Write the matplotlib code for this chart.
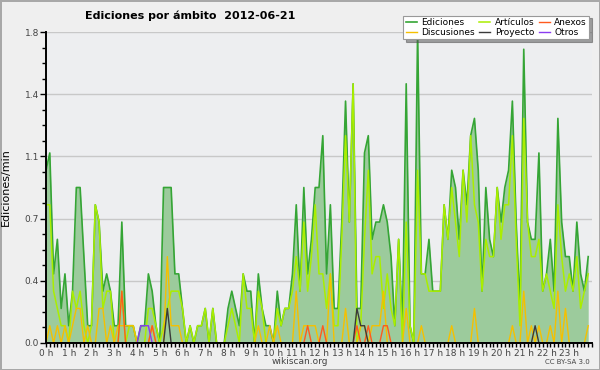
import matplotlib
matplotlib.use("Agg")
import matplotlib.pyplot as plt
from matplotlib.ticker import AutoMinorLocator, MultipleLocator, FixedLocator
import numpy as np

# edits per minute, one value every 10 minutes (6 per hour)
ediciones = [
    1.0, 1.1, 0.4, 0.6, 0.2, 0.4, 0.1, 0.3, 0.9, 0.9, 0.5, 0.1,
    0.1, 0.8, 0.7, 0.3, 0.4, 0.3, 0.1, 0.1, 0.7, 0.1, 0.1, 0.1,
    0.0, 0.1, 0.1, 0.4, 0.3, 0.1, 0.0, 0.9, 0.9, 0.9, 0.4, 0.4,
    0.2, 0.0, 0.1, 0.0, 0.1, 0.1, 0.2, 0.0, 0.2, 0.0, 0.0, 0.0,
    0.2, 0.3, 0.2, 0.1, 0.4, 0.3, 0.3, 0.0, 0.4, 0.2, 0.1, 0.1,
    0.0, 0.3, 0.1, 0.2, 0.2, 0.4, 0.8, 0.3, 0.9, 0.4, 0.6, 0.9,
    0.9, 1.2, 0.4, 0.8, 0.2, 0.2, 0.7, 1.4, 0.7, 1.5, 0.2, 0.2,
    1.1, 1.2, 0.6, 0.7, 0.7, 0.8, 0.7, 0.5, 0.1, 0.6, 0.1, 1.5,
    0.1, 0.0, 1.8, 0.4, 0.4, 0.6, 0.3, 0.3, 0.3, 0.8, 0.6, 1.0,
    0.9, 0.6, 1.0, 0.8, 1.2, 1.3, 1.0, 0.3, 0.9, 0.6, 0.5, 0.9,
    0.7, 0.9, 1.0, 1.4, 0.7, 0.2, 1.7, 0.7, 0.6, 0.6, 1.1, 0.3,
    0.4, 0.6, 0.3, 1.3, 0.7, 0.5, 0.5, 0.3, 0.7, 0.4, 0.3, 0.5,
]
articulos = [
    0.8, 0.8, 0.3, 0.2, 0.1, 0.1, 0.0, 0.3, 0.2, 0.3, 0.1, 0.0,
    0.1, 0.8, 0.7, 0.2, 0.3, 0.3, 0.0, 0.0, 0.3, 0.0, 0.1, 0.1,
    0.0, 0.0, 0.0, 0.2, 0.2, 0.1, 0.0, 0.1, 0.2, 0.3, 0.3, 0.3,
    0.2, 0.0, 0.1, 0.0, 0.1, 0.1, 0.2, 0.0, 0.2, 0.0, 0.0, 0.0,
    0.1, 0.2, 0.1, 0.0, 0.4, 0.2, 0.2, 0.0, 0.3, 0.2, 0.0, 0.0,
    0.0, 0.2, 0.1, 0.2, 0.2, 0.3, 0.5, 0.3, 0.7, 0.3, 0.5, 0.8,
    0.4, 0.4, 0.2, 0.4, 0.1, 0.1, 0.6, 1.2, 0.7, 1.5, 0.0, 0.1,
    0.6, 1.0, 0.4, 0.5, 0.5, 0.2, 0.4, 0.2, 0.1, 0.6, 0.0, 0.7,
    0.1, 0.0, 1.0, 0.4, 0.4, 0.3, 0.3, 0.3, 0.3, 0.8, 0.6, 0.9,
    0.7, 0.5, 1.0, 0.7, 1.2, 0.8, 0.7, 0.3, 0.6, 0.5, 0.5, 0.9,
    0.6, 0.8, 0.8, 1.2, 0.6, 0.1, 1.3, 0.7, 0.5, 0.5, 0.6, 0.3,
    0.4, 0.3, 0.2, 0.8, 0.5, 0.3, 0.4, 0.3, 0.5, 0.2, 0.3, 0.4,
]
discusiones = [
    0.0, 0.1, 0.0, 0.1, 0.0, 0.1, 0.0, 0.1, 0.2, 0.2, 0.0, 0.1,
    0.0, 0.0, 0.2, 0.2, 0.0, 0.1, 0.0, 0.1, 0.1, 0.1, 0.1, 0.1,
    0.0, 0.0, 0.0, 0.0, 0.1, 0.0, 0.0, 0.0, 0.5, 0.1, 0.1, 0.1,
    0.0, 0.0, 0.0, 0.0, 0.0, 0.0, 0.0, 0.0, 0.0, 0.0, 0.0, 0.0,
    0.0, 0.0, 0.0, 0.0, 0.0, 0.0, 0.0, 0.0, 0.1, 0.0, 0.0, 0.1,
    0.0, 0.1, 0.0, 0.0, 0.0, 0.0, 0.3, 0.0, 0.1, 0.1, 0.1, 0.1,
    0.0, 0.0, 0.0, 0.4, 0.0, 0.0, 0.0, 0.2, 0.0, 0.0, 0.0, 0.1,
    0.1, 0.0, 0.1, 0.1, 0.1, 0.3, 0.0, 0.0, 0.0, 0.0, 0.0, 0.2,
    0.0, 0.0, 0.0, 0.1, 0.0, 0.0, 0.0, 0.0, 0.0, 0.0, 0.0, 0.1,
    0.0, 0.0, 0.0, 0.0, 0.0, 0.2, 0.0, 0.0, 0.0, 0.0, 0.0, 0.0,
    0.0, 0.0, 0.0, 0.1, 0.0, 0.0, 0.3, 0.0, 0.1, 0.0, 0.1, 0.0,
    0.0, 0.1, 0.0, 0.3, 0.0, 0.2, 0.0, 0.0, 0.0, 0.0, 0.0, 0.1,
]
anexos = [
    0.0, 0.0, 0.0, 0.0, 0.0, 0.0, 0.0, 0.0, 0.0, 0.0, 0.0, 0.0,
    0.0, 0.0, 0.0, 0.0, 0.0, 0.0, 0.0, 0.0, 0.3, 0.0, 0.0, 0.0,
    0.0, 0.0, 0.0, 0.0, 0.1, 0.0, 0.0, 0.0, 0.0, 0.0, 0.0, 0.0,
    0.0, 0.0, 0.0, 0.0, 0.0, 0.0, 0.0, 0.0, 0.0, 0.0, 0.0, 0.0,
    0.0, 0.0, 0.0, 0.0, 0.0, 0.0, 0.0, 0.0, 0.0, 0.0, 0.0, 0.0,
    0.0, 0.0, 0.0, 0.0, 0.0, 0.0, 0.0, 0.0, 0.0, 0.1, 0.0, 0.0,
    0.0, 0.1, 0.0, 0.0, 0.0, 0.0, 0.0, 0.0, 0.0, 0.0, 0.1, 0.0,
    0.0, 0.1, 0.0, 0.0, 0.0, 0.1, 0.1, 0.0, 0.0, 0.0, 0.0, 0.0,
    0.0, 0.0, 0.0, 0.0, 0.0, 0.0, 0.0, 0.0, 0.0, 0.0, 0.0, 0.0,
    0.0, 0.0, 0.0, 0.0, 0.0, 0.0, 0.0, 0.0, 0.0, 0.0, 0.0, 0.0,
    0.0, 0.0, 0.0, 0.0, 0.0, 0.0, 0.0, 0.0, 0.0, 0.0, 0.0, 0.0,
    0.0, 0.0, 0.0, 0.0, 0.0, 0.0, 0.0, 0.0, 0.0, 0.0, 0.0, 0.0,
]
proyecto = [0.0] * 144
for i, v in [(32, 0.2), (82, 0.2), (83, 0.1), (84, 0.1), (129, 0.1)]:
    proyecto[i] = v
otros = [0.0] * 144
for i, v in [(25, 0.1), (26, 0.1), (27, 0.1)]:
    otros[i] = v

hour_labels = [f"{h} h" for h in range(24)]
title = "Ediciones por ámbito  2012-06-21"

x = np.arange(len(ediciones)) / 6.0

fig = plt.figure(figsize=(6, 3.7), dpi=100)
fig.patch.set_facecolor("#efefef")
fig.patch.set_edgecolor("#a8a8a8")
fig.patch.set_linewidth(2)

ax = fig.add_axes([46 / 600, 1 - 343 / 370, 546 / 600, 311 / 370])
ax.set_facecolor("#edeef0")

ax.fill_between(x, ediciones, color="#9ccb9c", lw=0, zorder=2)
ax.plot(x, ediciones, color="#35a535", lw=1.2, zorder=3, label="Ediciones")
ax.plot(x, articulos, color="#aaee00", lw=1.1, zorder=4, label="Artículos")
ax.plot(x, discusiones, color="#f5c000", lw=1.0, zorder=5, label="Discusiones")
ax.plot(x, anexos, color="#ff5a1e", lw=1.0, zorder=6, label="Anexos")
ax.plot(x, proyecto, color="#3a3a3a", lw=1.0, zorder=7, label="Proyecto")
ax.plot(x, otros, color="#8a3cf0", lw=1.0, zorder=8, label="Otros")

ax.set_xlim(0, 24)
ax.set_ylim(0, 1.8)

yt = np.linspace(0, 1.8, 6)
ax.yaxis.set_major_locator(FixedLocator(yt))
ax.set_yticklabels([f"{v:.1f}" for v in yt])
ax.yaxis.set_minor_locator(AutoMinorLocator(4))
ax.xaxis.set_major_locator(FixedLocator(range(24)))
ax.set_xticklabels(hour_labels)
ax.xaxis.set_minor_locator(MultipleLocator(1 / 6))

ax.grid(axis="y", color="#c8c8c8", lw=1, zorder=1)
ax.set_axisbelow(True)

for s in ["top", "right"]:
    ax.spines[s].set_visible(False)
for s in ["left", "bottom"]:
    ax.spines[s].set_color("black")
    ax.spines[s].set_linewidth(1.4)
    ax.spines[s].set_zorder(10)

ax.tick_params(axis="both", which="major", length=4, width=1, color="black",
               labelsize=6.5, labelcolor="#444444", pad=1)
ax.tick_params(axis="both", which="minor", length=3, width=1, color="black")
ax.tick_params(axis="x", which="major", length=3)

ax.set_ylabel("Ediciones/min", fontsize=8, labelpad=10)

fig.text(85 / 600, 1 - 16 / 370, title, fontsize=8, fontweight="bold",
         ha="left", va="center")
fig.text(0.5, 1 - 361 / 370, "wikiscan.org", fontsize=6.5, color="#444444",
         ha="center", va="center")
fig.text(590 / 600, 1 - 362 / 370, "CC BY-SA 3.0", fontsize=5, color="#444444",
         ha="right", va="center")

handles, labels = ax.get_legend_handles_labels()
order = [0, 2, 1, 4, 3, 5]
leg = fig.legend([handles[i] for i in order], [labels[i] for i in order],
                 loc="upper right", bbox_to_anchor=(594 / 600, 1 - 11 / 370),
                 ncol=3, fontsize=6.5, frameon=True, fancybox=False, shadow=True,
                 handlelength=1.2, handletextpad=0.5, columnspacing=0.5,
                 labelspacing=0.05, borderpad=0.3)
leg.get_frame().set_edgecolor("#999999")
leg.get_frame().set_linewidth(0.8)
leg.set_zorder(20)

fig.savefig("out.png", dpi=100, facecolor=fig.get_facecolor(),
            edgecolor=fig.get_edgecolor())
